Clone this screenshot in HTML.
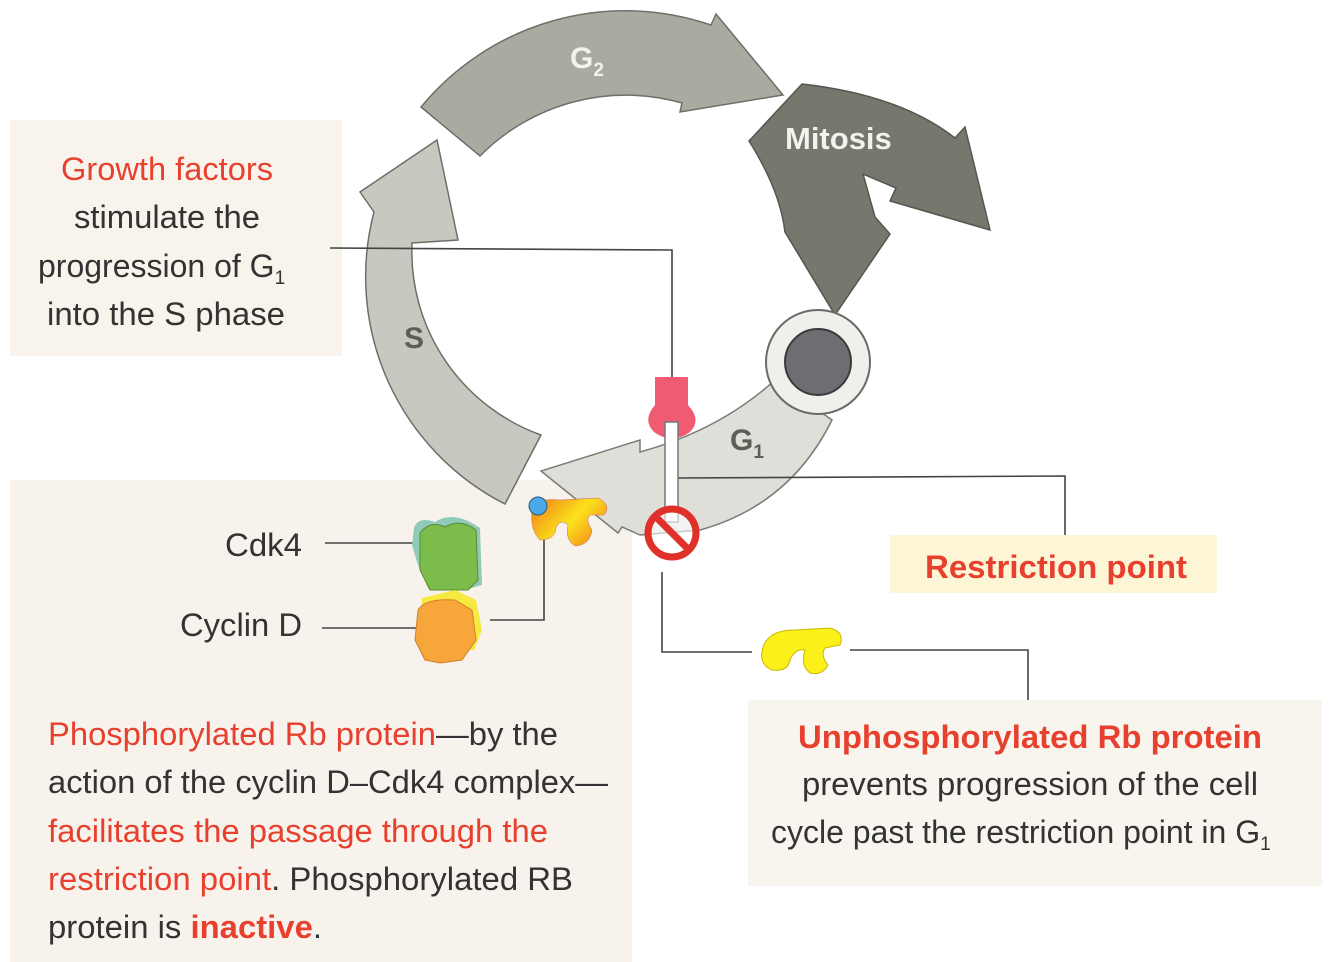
<!DOCTYPE html>
<html><head><meta charset="utf-8"><style>
html,body{margin:0;padding:0;background:#fff}
svg{display:block}
text{font-family:"Liberation Sans",sans-serif}
.t{font-size:32px;fill:#333}
.r{fill:#e8402e}
.b{font-weight:bold}
</style></head><body>
<svg width="1334" height="962" viewBox="0 0 1334 962" xmlns="http://www.w3.org/2000/svg">
<rect x="10" y="120" width="332" height="236" fill="#f8f4ec"/>
<rect x="10" y="480" width="622" height="482" fill="#f7f3ec"/>
<rect x="890" y="535" width="327" height="58" fill="#fcf6d6"/>
<rect x="748" y="700" width="574" height="186" fill="#f8f5ee"/>

<!-- G2 arrow -->
<path d="M421,107 A265,265 0 0 1 711,25 L716,14 L783,95 L680,112 L682,103 A205,205 0 0 0 480,156 Z" fill="#a9aba1" stroke="#6e6f68" stroke-width="1.5"/>
<text x="570" y="68" font-size="30" font-weight="bold" fill="#f2f2ee">G<tspan font-size="19" dy="8">2</tspan></text>

<!-- S arrow -->
<path d="M505,504 A255,255 0 0 1 374,212 L360,192 L437,140 L458,240 L412,243 A195,195 0 0 0 541,435 Z" fill="#c7c8bf" stroke="#6e6f68" stroke-width="1.5"/>
<text x="404" y="348" font-size="30" font-weight="bold" fill="#5f5d55">S</text>

<!-- Mitosis arrow -->
<path d="M749,141 L802,84 Q900,95 955,138 L965,127 L990,230 L890,201 L896,188 L863,174 L875,217 L890,234 L835,315 L785,232 Q780,190 749,141 Z" fill="#76776d" stroke="#555650" stroke-width="1.5"/>
<text x="785" y="149" font-size="31" font-weight="bold" fill="#f2f2ee">Mitosis</text>

<!-- G1 arrow -->
<path d="M832,420 Q790,505 700,530 L640,535 L622,527 L618,533 L541,471 L640,440 L640,452 Q720,430 775,380 Z" fill="#dfdfd9" stroke="#7a7b74" stroke-width="1.5"/>
<text x="730" y="450" font-size="30" font-weight="bold" fill="#5f5d55">G<tspan font-size="19" dy="8">1</tspan></text>

<circle cx="818" cy="362" r="52" fill="#efefec" stroke="#6a6a66" stroke-width="2"/>
<circle cx="818" cy="362" r="33" fill="#6e6e72" stroke="#3a3a3c" stroke-width="2"/>

<g fill="none" stroke="#444" stroke-width="1.6">
<polyline points="330,248 672,250 672,378"/>
<polyline points="678,478 1065,476 1065,535"/>
<line x1="325" y1="543" x2="430" y2="543"/>
<line x1="322" y1="628" x2="428" y2="628"/>
<polyline points="490,620 544,620 544,540"/>
<polyline points="662,572 662,652 752,652"/>
<polyline points="850,650 1028,650 1028,700"/>
</g>

<rect x="655" y="377" width="33" height="32" fill="#ef5c72"/>
<path d="M655,405 L688,405 Q702,420 690,432 Q672,445 654,432 Q642,420 655,405 Z" fill="#ef5c72"/>
<rect x="665" y="422" width="13" height="100" fill="#fff" stroke="#777" stroke-width="1.5"/>
<circle cx="672" cy="533" r="24" fill="#fff" fill-opacity="0.6" stroke="#e0302a" stroke-width="7"/>
<line x1="656" y1="517" x2="688" y2="549" stroke="#e0302a" stroke-width="7"/>

<defs><linearGradient id="og" x1="0" y1="0" x2="1" y2="0.6"><stop offset="0" stop-color="#f07a18"/><stop offset="0.6" stop-color="#fbe21a"/><stop offset="1" stop-color="#f5941e"/></linearGradient></defs>
<path d="M532,512 Q535,497 560,500 L598,498 Q612,505 604,515 L590,515 Q585,520 592,530 Q590,545 575,546 Q565,540 568,525 Q560,518 556,528 Q555,540 540,540 Q530,530 532,512 Z" fill="url(#og)" stroke="#c66" stroke-width="0.5"/>
<circle cx="538" cy="506" r="9" fill="#4aa8e6" stroke="#357" stroke-width="1"/>

<path d="M762,652 Q765,630 795,630 L830,628 Q845,632 840,645 L825,648 Q820,655 828,665 Q822,676 810,673 Q800,665 805,650 Q795,648 790,660 Q788,672 772,670 Q760,665 762,652 Z" fill="#fbf01a" stroke="#ccb800" stroke-width="1"/>

<path d="M414,528 Q418,516 435,522 Q450,512 470,522 L480,528 L482,585 L465,590 L428,588 L418,565 L412,545 Z" fill="#8fcbb8"/>
<path d="M420,533 Q430,520 445,527 Q460,518 476,530 L478,580 L468,590 L430,590 L420,570 Z" fill="#7cbc4a" stroke="#5a8a30" stroke-width="1"/>
<path d="M422,598 L455,590 L476,600 L482,630 L474,650 L440,650 L420,640 Z" fill="#f6ea40"/>
<path d="M418,610 Q425,598 455,600 L472,610 L476,640 L462,660 L440,663 L425,660 L415,640 Z" fill="#f6a63a" stroke="#d0802a" stroke-width="1"/>

<text class="t r" x="167" y="180" text-anchor="middle" textLength="212" lengthAdjust="spacingAndGlyphs">Growth factors</text>
<text class="t" x="167" y="228" text-anchor="middle" textLength="186" lengthAdjust="spacingAndGlyphs">stimulate the</text>
<text class="t" x="38" y="277">progression of G<tspan font-size="19" dy="7">1</tspan></text>
<text class="t" x="166" y="325" text-anchor="middle" textLength="238" lengthAdjust="spacingAndGlyphs">into the S phase</text>

<text class="t" x="225" y="556" textLength="77" lengthAdjust="spacingAndGlyphs">Cdk4</text>
<text class="t" x="180" y="636" textLength="122" lengthAdjust="spacingAndGlyphs">Cyclin D</text>

<text class="t b r" x="925" y="578" textLength="262" lengthAdjust="spacingAndGlyphs">Restriction point</text>

<text class="t" x="48" y="745" textLength="510" lengthAdjust="spacingAndGlyphs"><tspan class="r">Phosphorylated Rb protein</tspan>—by the</text>
<text class="t" x="48" y="793" textLength="560" lengthAdjust="spacingAndGlyphs">action of the cyclin D–Cdk4 complex—</text>
<text class="t r" x="48" y="842" textLength="500" lengthAdjust="spacingAndGlyphs">facilitates the passage through the</text>
<text class="t" x="48" y="890" textLength="525" lengthAdjust="spacingAndGlyphs"><tspan class="r">restriction point</tspan>. Phosphorylated RB</text>
<text class="t" x="48" y="938" textLength="274" lengthAdjust="spacingAndGlyphs">protein is <tspan class="r b">inactive</tspan>.</text>

<text class="t b r" x="1030" y="748" text-anchor="middle" textLength="464" lengthAdjust="spacingAndGlyphs">Unphosphorylated Rb protein</text>
<text class="t" x="1030" y="795" text-anchor="middle" textLength="456" lengthAdjust="spacingAndGlyphs">prevents progression of the cell</text>
<text class="t" x="771" y="843">cycle past the restriction point in G<tspan font-size="19" dy="7">1</tspan></text>
</svg>
</body></html>
